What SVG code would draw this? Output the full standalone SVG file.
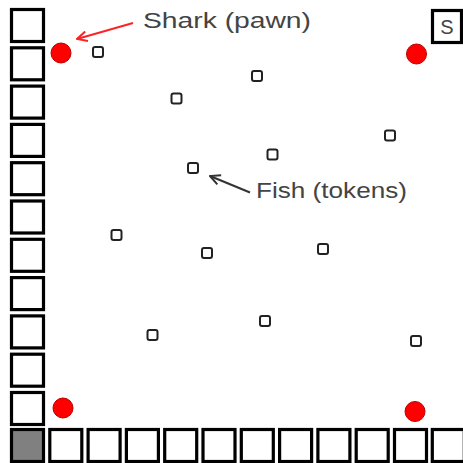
<svg xmlns="http://www.w3.org/2000/svg" width="463" height="463" viewBox="0 0 463 463">
  <style>
    .cell { fill: #fff; stroke: #000; stroke-width: 3.2; }
    .start { fill: #808080; stroke: #000; stroke-width: 3.2; }
    .fish { fill: none; stroke: #222; stroke-width: 2; }
    .shark { fill: #f00; stroke: #b00; stroke-width: 1; }
    .label { font-family: "Liberation Sans", Arial, sans-serif; font-size: 22px; fill: #444; }
    .lbl-s { font-family: "Liberation Sans", Arial, sans-serif; font-size: 20px; fill: #444; }
  </style>
  <defs>
    <rect id="sq" class="cell" width="32" height="32"/>
    <rect id="tok" class="fish" x="-5" y="-5" width="10" height="10" rx="2"/>
    <marker id="arrRed" viewBox="0 0 12 12" refX="11" refY="6" markerWidth="12" markerHeight="12" markerUnits="userSpaceOnUse" orient="auto">
      <path d="M1,1 L11,6 L1,11" fill="none" stroke="#f22" stroke-width="2"/>
    </marker>
    <marker id="arrDark" viewBox="0 0 12 12" refX="11" refY="6" markerWidth="12" markerHeight="12" markerUnits="userSpaceOnUse" orient="auto">
      <path d="M1,1 L11,6 L1,11" fill="none" stroke="#333" stroke-width="2"/>
    </marker>
  </defs>
  <rect width="463" height="463" fill="#fff"/>

  <g id="track-left">
    <use href="#sq" x="11.5" y="9.5"/>
    <use href="#sq" x="11.5" y="47.8"/>
    <use href="#sq" x="11.5" y="86.1"/>
    <use href="#sq" x="11.5" y="124.4"/>
    <use href="#sq" x="11.5" y="162.7"/>
    <use href="#sq" x="11.5" y="201"/>
    <use href="#sq" x="11.5" y="239.3"/>
    <use href="#sq" x="11.5" y="277.6"/>
    <use href="#sq" x="11.5" y="315.9"/>
    <use href="#sq" x="11.5" y="354.2"/>
    <use href="#sq" x="11.5" y="392.5"/>
  </g>
  <g id="start-cell">
    <rect class="start" x="11.5" y="429.5" width="32" height="32"/>
  </g>
  <g id="track-bottom">
    <use href="#sq" x="49.8" y="429.5"/>
    <use href="#sq" x="88.1" y="429.5"/>
    <use href="#sq" x="126.4" y="429.5"/>
    <use href="#sq" x="164.7" y="429.5"/>
    <use href="#sq" x="203" y="429.5"/>
    <use href="#sq" x="241.3" y="429.5"/>
    <use href="#sq" x="279.6" y="429.5"/>
    <use href="#sq" x="317.9" y="429.5"/>
    <use href="#sq" x="356.2" y="429.5"/>
    <use href="#sq" x="394.5" y="429.5"/>
    <use href="#sq" x="432.3" y="429.5"/>
  </g>

  <g id="s-box">
    <rect class="cell" x="432.5" y="10.5" width="29" height="32"/>
    <text class="lbl-s" x="447" y="34" text-anchor="middle">S</text>
  </g>

  <g id="sharks">
    <circle id="shark-tl" class="shark" cx="61" cy="53" r="10"/>
    <circle id="shark-tr" class="shark" cx="416.5" cy="54" r="10"/>
    <circle id="shark-bl" class="shark" cx="63" cy="408" r="10"/>
    <circle id="shark-br" class="shark" cx="415" cy="411.5" r="10"/>
  </g>

  <g id="fish">
    <use href="#tok" x="98" y="52"/>
    <use href="#tok" x="176.5" y="98.5"/>
    <use href="#tok" x="257" y="76"/>
    <use href="#tok" x="272.5" y="154.5"/>
    <use href="#tok" x="390" y="135.5"/>
    <use href="#tok" x="193" y="168"/>
    <use href="#tok" x="116.5" y="235"/>
    <use href="#tok" x="207" y="253"/>
    <use href="#tok" x="323" y="249"/>
    <use href="#tok" x="152.5" y="335"/>
    <use href="#tok" x="265" y="321"/>
    <use href="#tok" x="416" y="341"/>
  </g>

  <g id="connectors">
    <line x1="133" y1="23" x2="77" y2="39" stroke="#f22" stroke-width="2" marker-end="url(#arrRed)"/>
    <line x1="250" y1="192.5" x2="210" y2="176" stroke="#333" stroke-width="2" marker-end="url(#arrDark)"/>
  </g>

  <g id="labels">
    <text class="label" x="143" y="28" textLength="168" lengthAdjust="spacingAndGlyphs">Shark (pawn)</text>
    <text class="label" x="256" y="198" textLength="151" lengthAdjust="spacingAndGlyphs">Fish (tokens)</text>
  </g>
</svg>
